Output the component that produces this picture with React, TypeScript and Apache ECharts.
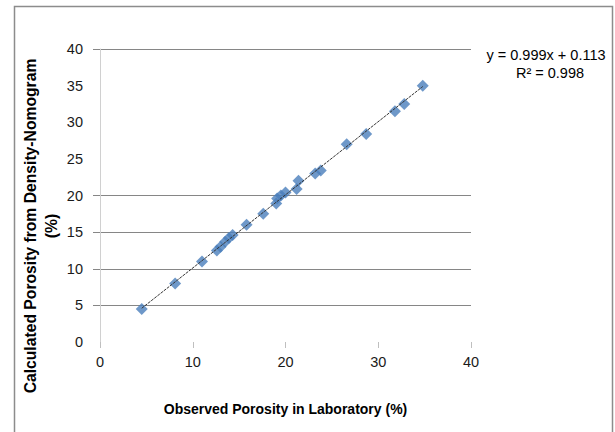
import React, { useEffect, useRef } from "react";
import * as echarts from "echarts";

const observed = [4.5, 8.1, 11.0, 12.6, 13.0, 13.5, 13.9, 14.3, 15.8, 17.6, 19.0, 19.1, 19.5, 20.0, 21.2, 21.4, 23.2, 23.8, 26.6, 28.7, 31.8, 32.8, 34.8];
const calculated = [4.5, 8.0, 11.0, 12.5, 13.0, 13.7, 14.2, 14.6, 16.0, 17.5, 18.9, 19.6, 20.0, 20.4, 20.9, 22.0, 23.0, 23.4, 27.0, 28.4, 31.5, 32.5, 35.0];
const trendSlope = 0.999;
const trendIntercept = 0.113;
const yGridTicks = [5, 10, 15, 20, 40];
const equationText = "y = 0.999x + 0.113";
const r2Text = "R\u00b2 = 0.998";
const xTitle = "Observed Porosity in Laboratory (%)";
const yTitle = "Calculated Porosity from Density-Nomogram\n(%)";

const FONT = "Liberation Sans";

export default function App() {
  const ref = useRef<HTMLDivElement>(null);
  useEffect(() => {
    if (!ref.current) return;
    const chart = echarts.init(ref.current, undefined, { renderer: "svg" });
    const xMin = Math.min(...observed);
    const xMax = Math.max(...observed);
    const trend = [
      [xMin, trendSlope * xMin + trendIntercept],
      [xMax, trendSlope * xMax + trendIntercept],
    ];
    chart.setOption({
      animation: false,
      backgroundColor: "#ffffff",
      textStyle: { fontFamily: FONT },
      grid: { left: 100, right: 144, top: 49, bottom: 90 },
      xAxis: {
        type: "value",
        min: 0,
        max: 40,
        interval: 10,
        axisLine: { show: false },
        axisTick: { show: true, length: 6, lineStyle: { color: "#bfbfbf", width: 1 } },
        splitLine: { show: false },
        axisLabel: { color: "#1a1a1a", fontSize: 14.5, margin: 12, fontFamily: FONT },
        name: xTitle,
        nameLocation: "middle",
        nameGap: 60,
        nameTextStyle: { fontSize: 14, fontWeight: "bold", color: "#000", fontFamily: FONT },
      },
      yAxis: {
        type: "value",
        min: 0,
        max: 40,
        interval: 5,
        axisLine: { show: true, onZero: false, lineStyle: { color: "#d0d0d0", width: 1 } },
        axisTick: { show: true, length: 7, customValues: yGridTicks, lineStyle: { color: "#868686", width: 1 } },
        splitLine: { show: true, lineStyle: { color: "#868686", width: 1 } },
        axisLabel: { color: "#1a1a1a", fontSize: 14.5, margin: 17, fontFamily: FONT },
      },
      series: [
        {
          type: "scatter",
          data: observed.map((v, i) => [v, calculated[i]]),
          symbol: "diamond",
          symbolSize: 12,
          itemStyle: { color: "#4a7ebb" },
          z: 2,
        },
        {
          type: "line",
          data: trend,
          symbol: "none",
          lineStyle: { color: "#333333", width: 1, type: [3, 1] },
          z: 3,
        },
      ],
      graphic: [
        {
          type: "rect",
          shape: { x: 14.5, y: 6.5, width: 598, height: 500 },
          style: { fill: "none", stroke: "#8c8c8c", lineWidth: 1.5 },
          silent: true,
        },
        {
          type: "text",
          x: 41,
          y: 226,
          rotation: Math.PI / 2,
          style: {
            text: yTitle,
            fontSize: 15.7,
            fontWeight: "bold",
            lineHeight: 21,
            fontFamily: FONT,
            fill: "#000",
            textAlign: "center",
            textVerticalAlign: "middle",
          },
        },
        {
          type: "text",
          x: 546,
          y: 55,
          style: { text: equationText, fontSize: 14.5, fontFamily: FONT, fill: "#000", textAlign: "center", textVerticalAlign: "middle" },
        },
        {
          type: "text",
          x: 550,
          y: 73,
          style: { text: r2Text, fontSize: 14.5, fontFamily: FONT, fill: "#000", textAlign: "center", textVerticalAlign: "middle" },
        },
      ],
    });
    return () => chart.dispose();
  }, []);
  return (
    <div
      ref={ref}
      style={{ position: "fixed", left: 0, top: 0, width: 615, height: 432, background: "#fff" }}
    />
  );
}
